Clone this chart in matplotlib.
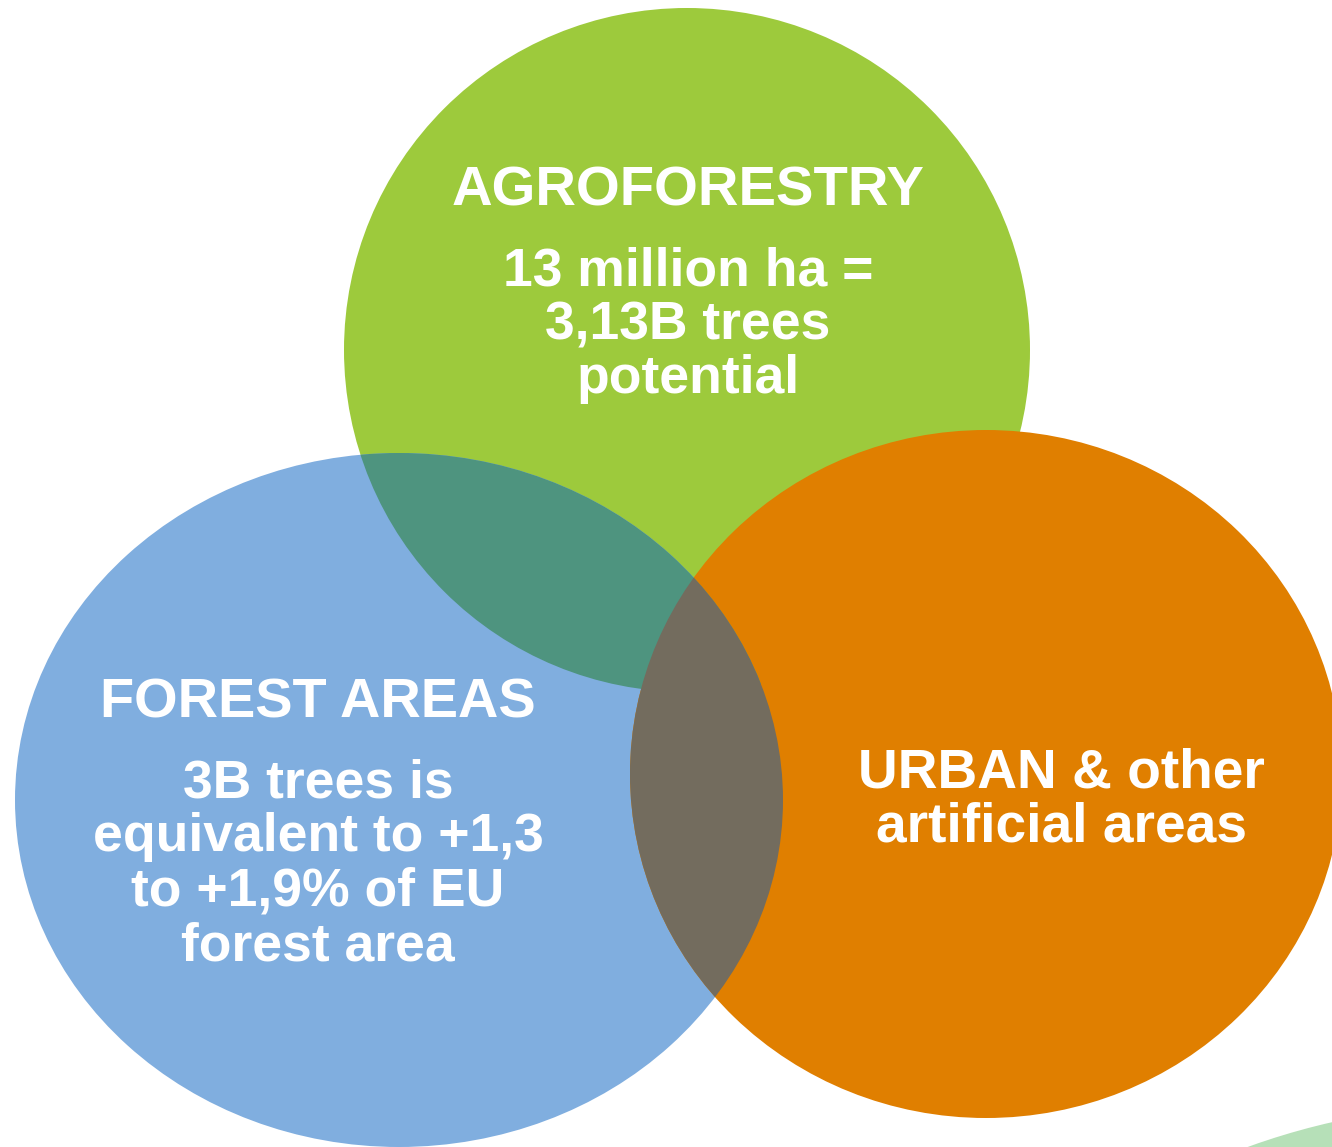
import matplotlib
matplotlib.use("Agg")
import matplotlib.pyplot as plt
from matplotlib.patches import Ellipse, Circle

# ---- data (texts) ----
agro_title = "AGROFORESTRY"
agro_lines = ["13 million ha =", "3,13B trees", "potential"]
forest_title = "FOREST AREAS"
forest_lines = ["3B trees is", "equivalent to +1,3", "to +1,9% of EU", "forest area"]
urban_lines = ["URBAN & other", "artificial areas"]

# ---- colours ----
GREEN = "#9DCA3C"
BLUE = "#80AEDF"
ORANGE = "#E07F00"
TEAL = "#4E947F"
GREY = "#736C5E"

W, H = 1332, 1147
fig = plt.figure(figsize=(W / 100, H / 100), dpi=100)
ax = fig.add_axes([0, 0, 1, 1])
ax.set_xlim(0, W)
ax.set_ylim(H, 0)
ax.set_aspect("equal")
ax.axis("off")

# decorative light-green arc bottom right
ax.add_patch(Circle((1489.5, 1814.5), 710, color="#B6E0B8", lw=0, zorder=0))

green = Ellipse((687, 350), 686, 684, color=GREEN, lw=0, zorder=1)
blue = Ellipse((399, 800), 768, 694, color=BLUE, lw=0, zorder=2)
orange = Ellipse((986, 774), 712, 688, color=ORANGE, lw=0, zorder=3)
for p in (green, blue, orange):
    ax.add_patch(p)

# overlaps
gb = Ellipse((399, 800), 768, 694, color=TEAL, lw=0, zorder=4)
ax.add_patch(gb)
gb.set_clip_path(green)
bo = Ellipse((399, 800), 768, 694, color=GREY, lw=0, zorder=5)
ax.add_patch(bo)
bo.set_clip_path(orange)

FONT = "Liberation Sans"
TITLE_FS = 40.5
BODY_FS = 38.5
URBAN_FS = 39.7
txt = dict(color="white", fontweight="bold", family=FONT, ha="center",
           va="baseline", zorder=10)

ax.text(688, 206, agro_title, fontsize=TITLE_FS, **txt)
for i, line in enumerate(agro_lines):
    ax.text(688, 285 + 54 * i, line, fontsize=BODY_FS, **txt)

ax.text(318, 718, forest_title, fontsize=TITLE_FS - 0.3, **txt)
for i, line in enumerate(forest_lines):
    ax.text(318, 797 + 54.5 * i, line, fontsize=BODY_FS, **txt)

for i, line in enumerate(urban_lines):
    ax.text(1061, 787 + 55 * i, line, fontsize=URBAN_FS, **txt)

fig.savefig("out.png", dpi=100, facecolor="white")
